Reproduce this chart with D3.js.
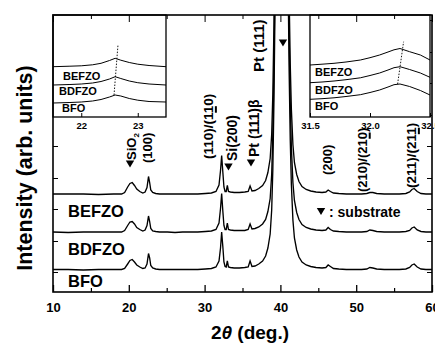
<!DOCTYPE html>
<html>
<head>
<meta charset="utf-8">
<script src="https://cdn.jsdelivr.net/npm/d3@7"></script>
<style>
  body { margin: 0; background: #fff; }
  text { font-family: "Liberation Sans", Arial, sans-serif; font-weight: bold; fill: #000; }
</style>
</head>
<body>
<svg id="chart" width="435" height="344"></svg>
<script>
// ---- data ----
const sampleNames = ["BFO", "BDFZO", "BEFZO"];
const stackOffset = [22, 59.5, 97.5];

const mainTheta = [
  10, 12, 14, 16, 18, 19.05, 19.45, 19.85, 20.15, 20.45,
  20.75, 21.05, 21.45, 21.85, 22.15, 22.4, 22.6, 22.75, 22.9, 23.15,
  23.55, 24.05, 25.1, 26.1, 27.1, 28.1, 29.1, 30.1, 30.9, 31.5,
  31.9, 32.1, 32.25, 32.4, 32.55, 32.7, 32.85, 33.0, 33.15, 33.4,
  33.9, 34.6, 35.3, 35.75, 36.0, 36.25, 36.65, 37.15, 37.65, 38.05,
  38.35, 38.65, 38.85, 39.0, 39.15, 39.3, 39.55, 39.95, 40.35, 40.75,
  41.0, 41.15, 41.3, 41.45, 41.65, 41.85, 42.15, 42.45, 42.85, 43.4,
  44.0, 44.7, 45.5, 46.0, 46.3, 46.6, 47.0, 47.7, 48.7, 49.7,
  50.7, 51.4, 51.8, 52.2, 52.7, 53.7, 54.7, 55.7, 56.55, 57.05,
  57.35, 57.65, 58.05, 58.55, 59.2, 60
];
const bfo = [
  0.5, 0.5, 0, 0.5, 0.5, 0.5, 1.5, 6, 9.5, 10.5,
  8, 5, 3, 1.5, 2, 6, 16.5, 12, 4.5, 2,
  1, 0.5, 0.5, 0.5, 0.5, 0.5, 0.5, 1, 1.5, 3,
  9, 22, 38, 24, 8, 3.5, 3, 9, 3, 2.5,
  2, 2, 2.5, 3, 9, 3.5, 4, 6, 9, 14,
  22, 36, 60, 100, 170, 270, 420, 600, 620, 520,
  300, 200, 130, 85, 50, 32, 20, 13, 8, 5,
  3.5, 2.5, 2, 2.5, 5, 3.5, 1.5, 1, 0.5, 0.5,
  0.5, 1, 2.5, 2, 1, 0.5, 0.5, 0.5, 1, 2.5,
  5, 6, 3, 1, 0.5, 0.5
];
const bdfzo = [
  0.5, 0, 0.5, 0.5, 0.5, 0.5, 2, 7, 10.5, 11,
  8.5, 5, 3, 1.5, 2.5, 7, 16.5, 11, 4, 1.5,
  1, 0.5, 0.5, 0, 0.5, 0.5, 0.5, 1, 1.5, 3,
  9.5, 24, 39, 22, 7, 3, 3, 9.5, 3, 2.5,
  2, 2, 2, 3, 8.5, 3.5, 4, 5.5, 8.5, 13,
  21, 34, 58, 98, 168, 268, 420, 600, 620, 520,
  300, 200, 130, 85, 50, 32, 20, 13, 8, 5,
  3.5, 2.5, 2, 2.5, 5, 3, 1.5, 1, 0.5, 0.5,
  0.5, 1, 2.5, 2, 1, 0.5, 0.5, 0.5, 1, 2,
  4.5, 5.5, 2.5, 1, 0.5, 0.5
];
const befzo = [
  0.5, 0.5, 0.5, 0, 0.5, 0.5, 2, 7.5, 11, 12,
  9, 5.5, 3, 1.5, 2.5, 7, 18, 12, 4.5, 2,
  1, 0.5, 0.5, 0.5, 0.5, 0.5, 0.5, 1, 1.5, 3,
  9.5, 24, 39, 23, 7.5, 3, 3, 9, 3, 2.5,
  2, 2, 2.5, 3, 8.5, 3.5, 4, 6, 9, 14,
  22, 36, 60, 100, 170, 270, 420, 600, 620, 520,
  300, 200, 130, 85, 50, 32, 20, 13, 8, 5,
  3.5, 2.5, 2, 2.5, 4.5, 3, 1.5, 1, 0.5, 0.5,
  0.5, 1, 2, 2, 1, 0.5, 0.5, 0.5, 1, 2.5,
  5, 6, 3, 1, 0.5, 0.5
];

// inset around (100)
const leftInsetTheta = [21.5, 21.8, 22.0, 22.2, 22.35, 22.5, 22.6, 22.7, 22.85, 23.0, 23.2, 23.5];
const leftInsetBFO   = [14, 14.5, 15, 16, 17.5, 20, 22, 21, 18.5, 16.8, 15.5, 15];
const leftInsetBDFZO = [32, 32.5, 33, 34, 35.5, 38, 40.3, 38.5, 36, 34.3, 33, 32];
const leftInsetBEFZO = [50.3, 50.8, 51.2, 52.2, 53.7, 56.5, 58.7, 56.8, 54.5, 52.8, 51.5, 50.3];
const leftPeakLine = [[22.58, 22], [22.65, 72]];

// inset around (110)
const rightInsetTheta = [31.5, 31.6, 31.7, 31.8, 31.92, 32.0, 32.08, 32.15, 32.2, 32.25, 32.33, 32.42, 32.5];
const rightInsetBFO   = [17.7, 18.3, 19.2, 20.5, 22.3, 24.5, 27, 30, 32.3, 33, 30.5, 26.5, 22];
const rightInsetBDFZO = [34.3, 35, 36, 37.3, 39.2, 41.5, 44, 47, 49.3, 50.3, 47.5, 44, 39.7];
const rightInsetBEFZO = [52, 52.8, 53.7, 55, 57, 59.3, 62, 65, 67.2, 68.5, 65.3, 62, 57];
const rightPeakLine = [[32.23, 33], [32.28, 75.3]];

const xMajor = [10, 20, 30, 40, 50, 60];
const xMinor = [15, 25, 35, 45, 55];
const yTicks = [20, 51, 83, 114, 146, 177, 209, 240, 272];
const leftInsetTicks = [22, 23];
const rightInsetTicks = [31.5, 32.0, 32.5];

// peak labels: [text, 2theta, level, size]; "_" marks an underlined (barred) index
const peakLabels = [
  ["(100)", 22.47, 129, 13],
  ["(110)/(1_10)", 30.45, 133, 13.5],
  ["Si(200)", 33.55, 131, 14],
  ["Pt (111)\u03b2", 36.52, 135, 14],
  ["Pt (111)", 37.18, 220, 15],
  ["(200)", 46.15, 117, 13],
  ["(210)/(21_0)", 50.77, 100, 13],
  ["(211)/(21_1)", 57.23, 104, 13.5]
];
const substrateMarks = [[20.16, 128], [33.15, 125], [36.12, 129], [40.34, 249]];

// ---- layout ----
const svg = d3.select("#chart");
const pL = 53, pR = 432, pT = 15, pB = 292;

const x = d3.scaleLinear().domain([10, 60]).range([pL, pR]);
const y = d3.scaleLinear().domain([0, 277]).range([pB, pT]);

svg.append("clipPath").attr("id", "plotclip")
  .append("rect").attr("x", pL).attr("y", pT).attr("width", pR - pL).attr("height", pB - pT);

const series = [bfo, bdfzo, befzo];
const line = d3.line().x(d => x(d[0])).y(d => y(d[1]));

const traces = svg.append("g").attr("clip-path", "url(#plotclip)")
  .attr("fill", "none").attr("stroke", "#000").attr("stroke-width", 1.35);
series.forEach((s, i) => {
  traces.append("path")
    .attr("d", line(mainTheta.map((t, k) => [t, s[k] + stackOffset[i]])));
});

// trace names
const nameY = [286.5, 255, 217];
sampleNames.forEach((n, i) => {
  svg.append("text").attr("x", 68).attr("y", nameY[i]).attr("font-size", 16.5).text(n);
});

// axes
svg.append("g").attr("transform", `translate(0,${pB})`)
  .call(d3.axisBottom(x).tickValues(xMajor).tickSize(-7).tickPadding(11).tickFormat(d3.format("d")))
  .call(g => g.select(".domain").remove())
  .call(g => g.selectAll("text").attr("font-size", 13).attr("font-family", null).attr("fill", "#000"))
  .call(g => g.selectAll("line").attr("stroke-width", 1.3));
svg.append("g").attr("transform", `translate(0,${pB})`)
  .call(d3.axisBottom(x).tickValues(xMinor).tickSize(-4).tickFormat(""))
  .call(g => g.select(".domain").remove())
  .call(g => g.selectAll("line").attr("stroke-width", 1.2));

svg.append("g").attr("transform", `translate(${pL},0)`)
  .call(d3.axisLeft(y).tickValues(yTicks).tickSize(-5).tickFormat(""))
  .call(g => g.select(".domain").remove());
svg.append("g").attr("transform", `translate(${pR},0)`)
  .call(d3.axisRight(y).tickValues(yTicks).tickSize(-5).tickFormat(""))
  .call(g => g.select(".domain").remove());

// insets
const yi = d3.scaleLinear().domain([0, 102]).range([117, 15]);
function inset(x0, x1, dom, theta, sets, peakLine, ticks, fmt, labelX, labelY) {
  const xi = d3.scaleLinear().domain(dom).range([x0, x1]);
  const g = svg.append("g");
  g.append("rect").attr("x", x0).attr("y", 15).attr("width", x1 - x0).attr("height", 102)
    .attr("fill", "#fff").attr("stroke", "#000").attr("stroke-width", 1.3);
  const l = d3.line().x(d => xi(d[0])).y(d => yi(d[1]));
  sets.forEach(s => {
    g.append("path").attr("fill", "none").attr("stroke", "#000").attr("stroke-width", 1)
      .attr("d", l(theta.map((t, k) => [t, s[k]])));
  });
  g.append("path").attr("fill", "none").attr("stroke", "#000").attr("stroke-width", 0.9)
    .attr("stroke-dasharray", "1.5,1.5").attr("d", l(peakLine));
  g.append("g").attr("transform", "translate(0,117)")
    .call(d3.axisBottom(xi).tickValues(ticks).tickSize(-4).tickPadding(5).tickFormat(fmt))
    .call(a => a.select(".domain").remove())
    .call(a => a.selectAll("text").attr("font-size", 9.5).attr("font-family", null).attr("fill", "#000"));
  ["BFO", "BDFZO", "BEFZO"].forEach((n, i) => {
    g.append("text").attr("x", labelX[i]).attr("y", labelY[i]).attr("font-size", 11).text(n);
  });
}
inset(53, 166, [21.5, 23.5], leftInsetTheta, [leftInsetBFO, leftInsetBDFZO, leftInsetBEFZO],
  leftPeakLine, leftInsetTicks, d3.format("d"), [62, 59, 63], [111.5, 95, 80]);
inset(310, 430, [31.5, 32.5], rightInsetTheta, [rightInsetBFO, rightInsetBDFZO, rightInsetBEFZO],
  rightPeakLine, rightInsetTicks, d3.format(".1f"), [315, 315, 315], [110, 94, 76]);

// top ticks of main frame
svg.append("g").attr("transform", `translate(0,${pT})`)
  .call(d3.axisTop(x).tickValues(xMajor).tickSize(-7).tickFormat(""))
  .call(g => g.select(".domain").remove());
svg.append("g").attr("transform", `translate(0,${pT})`)
  .call(d3.axisTop(x).tickValues(xMinor).tickSize(-4).tickFormat(""))
  .call(g => g.select(".domain").remove());

// frame
svg.append("rect").attr("x", pL).attr("y", pT).attr("width", pR - pL).attr("height", pB - pT)
  .attr("fill", "none").attr("stroke", "#000").attr("stroke-width", 1.6);

// peak labels
function vlabel(str, theta, level, fs) {
  const g = svg.append("g").attr("transform", `translate(${x(theta)},${y(level)}) rotate(-90)`);
  const clean = str.replace(/_/g, "");
  const t = g.append("text").attr("dy", "0.36em").attr("font-size", fs).text(clean);
  const idx = str.indexOf("_");
  if (idx >= 0) {
    const node = t.node();
    const sx = node.getSubStringLength(0, idx);
    const w = node.getSubStringLength(idx, 1);
    g.append("rect").attr("x", sx + 0.5).attr("y", fs * 0.36 + 2).attr("width", w - 1).attr("height", 2);
  }
}
peakLabels.forEach(d => vlabel(d[0], d[1], d[2], d[3]));

// SiO2 with subscript
{
  const g = svg.append("g").attr("transform", `translate(${x(20.29)},${y(132)}) rotate(-90)`);
  const t = g.append("text").attr("dy", "0.36em").attr("font-size", 13);
  t.append("tspan").text("SiO");
  t.append("tspan").attr("font-size", 8).attr("dy", 3).text("2");
}

// substrate markers
const tri = "M-4.2,-3.6L4.2,-3.6L0,3.6Z";
substrateMarks.forEach(d => {
  svg.append("path").attr("d", tri).attr("transform", `translate(${x(d[0])},${y(d[1])})`);
});
svg.append("path").attr("d", tri).attr("transform", "translate(321,211.5)");
svg.append("text").attr("x", 329).attr("y", 216.5).attr("font-size", 14).text(": substrate");

// axis titles
const xt = svg.append("text").attr("x", 250).attr("y", 339).attr("text-anchor", "middle").attr("font-size", 19);
xt.append("tspan").text("2");
xt.append("tspan").attr("font-style", "italic").text("\u03b8");
xt.append("tspan").text(" (deg.)");

svg.append("text").attr("transform", "translate(32,168) rotate(-90)")
  .attr("text-anchor", "middle").attr("font-size", 21.5).text("Intensity (arb. units)");
</script>
</body>
</html>
